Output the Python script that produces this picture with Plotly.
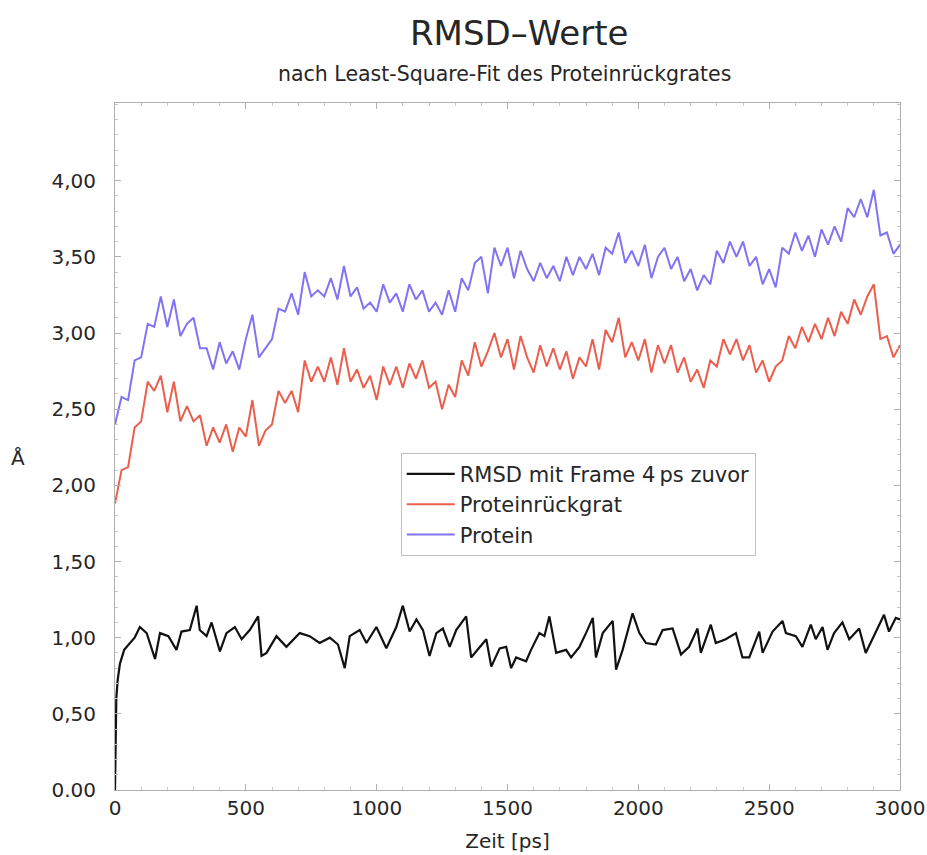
import plotly.graph_objects as go

# ---- data ----
t_step = [i * 25 for i in range(121)]  # 0 .. 3000 ps

protein = [
    2.40, 2.58, 2.56, 2.82, 2.84, 3.06, 3.04, 3.24, 3.04, 3.22,
    2.98, 3.06, 3.10, 2.90, 2.90, 2.76, 2.94, 2.80, 2.88, 2.76,
    2.96, 3.12, 2.84, 2.90, 2.96, 3.16, 3.14, 3.26, 3.12, 3.40,
    3.24, 3.28, 3.24, 3.36, 3.22, 3.44, 3.24, 3.30, 3.16, 3.20,
    3.14, 3.32, 3.20, 3.26, 3.14, 3.32, 3.22, 3.28, 3.14, 3.20,
    3.12, 3.28, 3.14, 3.36, 3.28, 3.46, 3.50, 3.26, 3.56, 3.44,
    3.56, 3.36, 3.54, 3.42, 3.34, 3.46, 3.36, 3.44, 3.34, 3.50,
    3.38, 3.50, 3.42, 3.52, 3.38, 3.56, 3.52, 3.66, 3.46, 3.54,
    3.44, 3.58, 3.36, 3.50, 3.56, 3.42, 3.50, 3.34, 3.42, 3.28,
    3.38, 3.32, 3.54, 3.46, 3.60, 3.50, 3.60, 3.44, 3.50, 3.32,
    3.42, 3.30, 3.56, 3.52, 3.66, 3.54, 3.64, 3.50, 3.68, 3.58,
    3.70, 3.60, 3.82, 3.76, 3.88, 3.76, 3.94, 3.64, 3.66, 3.52,
    3.58,
]

backbone = [
    1.88, 2.10, 2.12, 2.38, 2.42, 2.68, 2.62, 2.72, 2.48, 2.68,
    2.42, 2.52, 2.42, 2.46, 2.26, 2.38, 2.28, 2.40, 2.22, 2.38,
    2.32, 2.56, 2.26, 2.36, 2.40, 2.62, 2.54, 2.62, 2.48, 2.82,
    2.68, 2.78, 2.68, 2.84, 2.66, 2.90, 2.68, 2.76, 2.64, 2.72,
    2.56, 2.78, 2.66, 2.78, 2.64, 2.80, 2.70, 2.82, 2.64, 2.68,
    2.50, 2.66, 2.58, 2.82, 2.72, 2.94, 2.78, 2.88, 3.00, 2.84,
    2.96, 2.76, 2.98, 2.84, 2.74, 2.92, 2.78, 2.90, 2.76, 2.88,
    2.70, 2.84, 2.78, 2.96, 2.76, 3.02, 2.94, 3.10, 2.84, 2.94,
    2.82, 2.96, 2.74, 2.92, 2.80, 2.92, 2.74, 2.84, 2.68, 2.76,
    2.64, 2.82, 2.78, 2.96, 2.86, 2.96, 2.82, 2.92, 2.74, 2.82,
    2.68, 2.78, 2.82, 2.98, 2.90, 3.04, 2.94, 3.06, 2.96, 3.10,
    2.98, 3.14, 3.06, 3.22, 3.12, 3.24, 3.32, 2.96, 2.98, 2.84,
    2.92,
]

t_frame = [
    0, 2, 5, 10, 19, 35, 57, 75, 95, 121, 153, 172, 204, 235, 254, 286,
    312, 324, 350, 369, 401, 426, 458, 484, 515, 547, 560, 579, 617, 655,
    706, 744, 782, 821, 852, 878, 897, 935, 961, 999, 1037, 1075, 1100,
    1126, 1152, 1177, 1202, 1228, 1253, 1279, 1304, 1342, 1361, 1393,
    1419, 1438, 1470, 1495, 1514, 1533, 1571, 1590, 1622, 1641, 1660,
    1686, 1724, 1743, 1775, 1800, 1826, 1838, 1864, 1902, 1915, 1940,
    1978, 2004, 2029, 2067, 2093, 2131, 2163, 2194, 2226, 2239, 2277,
    2296, 2334, 2373, 2398, 2424, 2462, 2475, 2513, 2551, 2564, 2602,
    2627, 2659, 2678, 2704, 2723, 2748, 2780, 2806, 2844, 2869, 2901,
    2939, 2958, 2984, 3000,
]
rmsd_frame = [
    0.00, 0.45, 0.60, 0.72, 0.83, 0.92, 0.965, 1.00, 1.07, 1.03, 0.86,
    1.03, 1.01, 0.92, 1.04, 1.05, 1.21, 1.05, 1.01, 1.10, 0.91, 1.03,
    1.07, 0.99, 1.05, 1.14, 0.88, 0.90, 1.01, 0.94, 1.03, 1.01, 0.965,
    1.00, 0.955, 0.80, 1.01, 1.05, 0.965, 1.07, 0.93, 1.07, 1.21, 1.04,
    1.12, 1.05, 0.88, 1.03, 1.06, 0.94, 1.05, 1.14, 0.87, 0.94, 0.99,
    0.81, 0.93, 0.94, 0.80, 0.87, 0.845, 0.92, 1.03, 1.01, 1.14, 0.90,
    0.92, 0.87, 0.94, 1.03, 1.13, 0.87, 1.03, 1.11, 0.79, 0.92, 1.16,
    1.03, 0.965, 0.955, 1.05, 1.06, 0.89, 0.94, 1.06, 0.90, 1.085,
    0.965, 0.99, 1.03, 0.87, 0.87, 1.04, 0.90, 1.04, 1.11, 1.03, 1.01,
    0.94, 1.085, 0.99, 1.07, 0.92, 1.03, 1.10, 0.99, 1.06, 0.90, 1.01,
    1.15, 1.04, 1.13, 1.12,
]

y_tickvals = [0, 0.5, 1.0, 1.5, 2.0, 2.5, 3.0, 3.5, 4.0]
y_ticktext = ["0.00", "0,50", "1,00", "1,50", "2,00", "2,50", "3,00", "3,50", "4,00"]
x_tickvals = [0, 500, 1000, 1500, 2000, 2500, 3000]

series_names = ["RMSD mit Frame 4\u2009ps zuvor", "Proteinrückgrat", "Protein"]

FONT = "DejaVu Sans, Liberation Sans, Arial, sans-serif"
TXT = "#262626"

fig = go.Figure()
fig.add_trace(go.Scatter(x=t_step, y=protein, mode="lines", name=series_names[2],
                         line=dict(color="#6a5cf0", width=2), opacity=0.85))
fig.add_trace(go.Scatter(x=t_step, y=backbone, mode="lines", name=series_names[1],
                         line=dict(color="#e8432e", width=2), opacity=0.85))
fig.add_trace(go.Scatter(x=t_frame, y=rmsd_frame, mode="lines", name=series_names[0],
                         line=dict(color="#111111", width=2.2)))

axis_common = dict(
    showline=True, linecolor="#b0b0b0", linewidth=1, mirror="allticks",
    ticks="inside", ticklen=6, tickcolor="#b0b0b0", showgrid=False, zeroline=False,
    automargin=False,
    tickfont=dict(family=FONT, size=20, color=TXT),
)

fig.update_layout(
    width=927, height=855,
    margin=dict(l=115, r=27, t=103, b=65, autoexpand=False),
    paper_bgcolor="white", plot_bgcolor="white",
    font=dict(family=FONT, color=TXT),
    xaxis=dict(range=[0, 3000], tickvals=x_tickvals,
               minor=dict(dtick=100, ticks="inside", ticklen=3, tickcolor="#c8c8c8"),
               title=dict(text="Zeit [ps]", font=dict(size=20), standoff=14),
               **axis_common),
    yaxis=dict(range=[0, 4.51], tickvals=y_tickvals, ticktext=y_ticktext,
               ticklabelstandoff=14,
               minor=dict(dtick=0.1, ticks="inside", ticklen=3, tickcolor="#c8c8c8"),
               **axis_common),
    legend=dict(x=0.364, y=0.491, xanchor="left", yanchor="top",
                bgcolor="white", bordercolor="#c0c0c0", borderwidth=1,
                font=dict(family=FONT, size=21, color=TXT),
                traceorder="reversed", itemwidth=48, tracegroupgap=0),
    showlegend=True,
)

fig.add_annotation(text="RMSD\u2013Werte", xref="paper", yref="paper",
                   x=(519 - 115) / 785, y=1 + (103 - 33) / 687,
                   xanchor="center", yanchor="middle", showarrow=False,
                   font=dict(family=FONT, size=34, color=TXT))
fig.add_annotation(text="nach Least-Square-Fit des Proteinrückgrates", xref="paper", yref="paper",
                   x=(504 - 115) / 785, y=1 + (103 - 74) / 687,
                   xanchor="center", yanchor="middle", showarrow=False,
                   font=dict(family=FONT, size=20.5, color=TXT))
fig.add_annotation(text="Å", xref="paper", yref="paper",
                   x=(18 - 115) / 785, y=(790 - 458) / 687,
                   xanchor="center", yanchor="middle", showarrow=False,
                   font=dict(family=FONT, size=20, color=TXT))

fig.write_html("out.html")
